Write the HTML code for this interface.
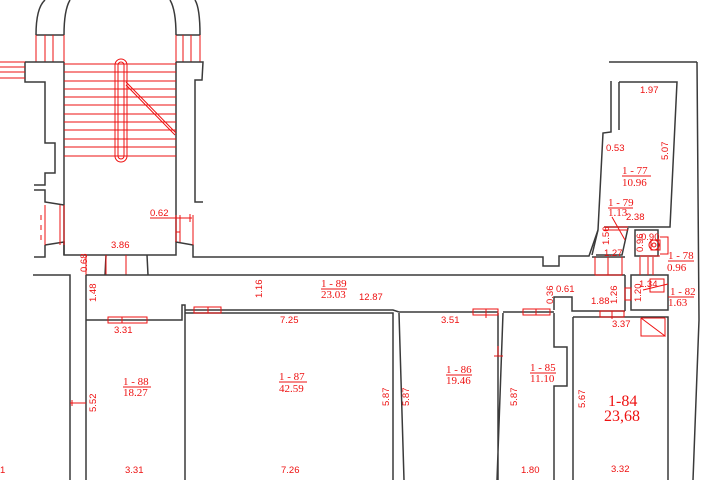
<!DOCTYPE html>
<html><head><meta charset="utf-8"><style>
html,body{margin:0;padding:0;background:#fff;}
svg{display:block;}
.w{fill:none;stroke:#3a3a3a;stroke-width:1.5;}
.r{fill:none;stroke:#ee1111;stroke-width:1;}
.d{font-family:"Liberation Sans",sans-serif;font-size:9.5px;fill:#ee1111;}
.n{font-family:"Liberation Serif",serif;font-size:11px;fill:#ee1111;}
</style></head><body>
<svg width="705" height="480" viewBox="0 0 705 480" xmlns="http://www.w3.org/2000/svg">
<path class="w" d="M36 35 Q36 8 45 0 M64 35 Q64 10 70 0 M176 35 Q176 10 170 0 M200 35 Q200 8 195 0"/>
<path class="w" d="M36 35 H64 M176 35 H200"/>
<path class="r" d="M36 35 V62 M45 35 V62 M53 35 V62 M64 35 V62 M176 35 V62 M183 35 V62 M191 35 V62 M200 35 V62"/>
<path class="w" d="M25 62 H64 M176 62 H203 L202 80 H195 V202 H203 M25 62 V82 H45 V143 H55 V173 H45 V185 H34 M34 190 H45 V202 L64 205 M45 245 L64 242 V255 H176 V242 L193 245 V257 H543 V266 H559 V256 H589 L598 230"/>
<path class="w" d="M45 245 V257 H34 M64 62 V255 M176 62 V242"/>
<path class="r" d="M0 62 H25 M0 67 H25 M0 72 H25 M0 78 H25"/>
<path class="r" d="M45 205 V245 M60 205 V245 M64 205 V245 M41 215 V220 M41 225 V230 M41 235 V240 M176 215 V242 M180 215 V242 M193 215 V245"/>
<g class="r">
<path d="M64 64 H176 M64 72 H176 M64 81 H176 M64 89 H176 M64 97 H176 M64 105 H176 M64 114 H176 M64 122 H176 M64 130 H176 M64 139 H176 M64 147 H176 M64 156 H176"/>
<rect x="115" y="59" width="12" height="103" rx="6"/>
<rect x="118" y="62" width="6" height="97" rx="3"/>
<path d="M126 82 L176 133 M126 85 L175 135"/>
<path d="M150 218 H192 M190 214 V222 M176 232 H180"/>
</g>
<path class="w" d="M106 255 L105 275 M147 255 L148 275"/>
<path class="r" d="M106 255 V275 M126 255 V275 M106 275 H147 M86 255 V275"/>
<path class="w" d="M33 275 H70 V480 M86 275 H625 M86 275 V480 M86 320 H182 V305 H185 V480"/>
<path class="w" d="M185 310 H393 L399 312 M185 313 H393 V480 M399 313 L404 480 M399 312 H498 M498 313 V480 M503 312 H554 M503 313 L497 480 M554 310 V297 H572 V311 H625 M554 313 V347 H567 V386 H554 V480 M573 317 V480 M573 317 H668 V480 M625 275 V311 M631 275 H668 V310 H631 Z M668 317 V480"/>
<path class="w" d="M609 62 H697 M697 62 L699 320 L693 480"/>
<path class="r" d="M108 317 H147 V323 H108 Z M122 317 V323 M194 307 H221 V313 H194 Z M208 307 V313 M473 309 H498 V315 H473 Z M486 309 V318 M523 309 H550 V315 H523 Z M536 309 V315 M600 311 H624 V317 H600 Z M612 311 V319 M625 288 H631 V300 H625 Z M498 346 V355 M494 356 H503 M70 403 H86 M72 400 V406"/>
<path class="r" d="M641 318 H665 M641 318 L665 336 V318 M641 318 V336 H665"/>
<path class="w" d="M611 81 V132 L603 133 L598 230 M619 82 H677 L670 227 H604 M619 82 V130 M598 230 L592 255 M628 228 L622 255 H596 M592 257 H625 M635 230 H658 V256 H635 Z"/>
<path class="r" d="M604 227 H628 M603 230 H628 M612 217 L625 240 M595 257 V275 M622 257 V275 M608 257 V275 M595 275 H622 M640 257 V275 M653 257 V275 M648 257 V275 M660 237 H668 V254 H660 M651 240 H660 V250 H651 Z M640 256 H660 M643 290 L668 284 M650 279 H664 V292 H650 Z"/>
<circle cx="654" cy="245" r="5" class="r"/><circle cx="654" cy="245" r="2" class="r"/>
<g class="d">
<text x="150" y="216">0.62</text>
<text x="111" y="248">3.86</text>
<text transform="translate(87,272) rotate(-90)">0.68</text>
<text transform="translate(96,302) rotate(-90)">1.48</text>
<text transform="translate(262,298) rotate(-90)">1.16</text>
<text x="359" y="300">12.87</text>
<text transform="translate(553,304) rotate(-90)">0.36</text>
<text x="556" y="292">0.61</text>
<text x="591" y="304">1.88</text>
<text transform="translate(617,304) rotate(-90)">1.26</text>
<text transform="translate(641,302) rotate(-90)">1.20</text>
<text x="639" y="287">1.34</text>
<text x="641" y="240">0.90</text>
<text transform="translate(643,252) rotate(-90)">0.96</text>
<text x="604" y="256">1.27</text>
<text transform="translate(609,245) rotate(-90)">1.56</text>
<text x="626" y="220">2.38</text>
<text x="606" y="151">0.53</text>
<text transform="translate(668,160) rotate(-90)">5.07</text>
<text x="640" y="93">1.97</text>
<text x="114" y="333">3.31</text>
<text x="280" y="323">7.25</text>
<text x="441" y="323">3.51</text>
<text x="612" y="327">3.37</text>
<text transform="translate(96,412) rotate(-90)">5.52</text>
<text transform="translate(389,406) rotate(-90)">5.87</text>
<text transform="translate(409,406) rotate(-90)">5.87</text>
<text transform="translate(517,406) rotate(-90)">5.87</text>
<text transform="translate(585,408) rotate(-90)">5.67</text>
<text x="125" y="473">3.31</text>
<text x="281" y="473">7.26</text>
<text x="521" y="473">1.80</text>
<text x="611" y="472">3.32</text>
<text x="0" y="473">1</text>
</g>
<g class="n">
<text x="321" y="287">1 - 89</text><text x="321" y="298">23.03</text>
<text x="670" y="295">1 - 82</text><text x="668" y="306">1.63</text>
<text x="668" y="259">1 - 78</text><text x="667" y="271">0.96</text>
<text x="608" y="206">1 - 79</text><text x="608" y="216">1.13</text>
<text x="622" y="174">1 - 77</text><text x="622" y="186">10.96</text>
<text x="123" y="385">1 - 88</text><text x="123" y="396">18.27</text>
<text x="279" y="380">1 - 87</text><text x="279" y="392">42.59</text>
<text x="446" y="373">1 - 86</text><text x="446" y="384">19.46</text>
<text x="530" y="371">1 - 85</text><text x="530" y="382">11.10</text>
<text x="608" y="406" style="font-size:16px">1-84</text>
<text x="604" y="421" style="font-size:16px">23,68</text>
</g>
<path class="r" stroke-width="0.6" d="M321 289 H347 M608 208 H633 M622 176 H651 M123 387 H151 M279 382 H307 M446 375 H472 M530 373 H556 M668 261 H694 M668 297 H694"/>
</svg>
</body></html>
